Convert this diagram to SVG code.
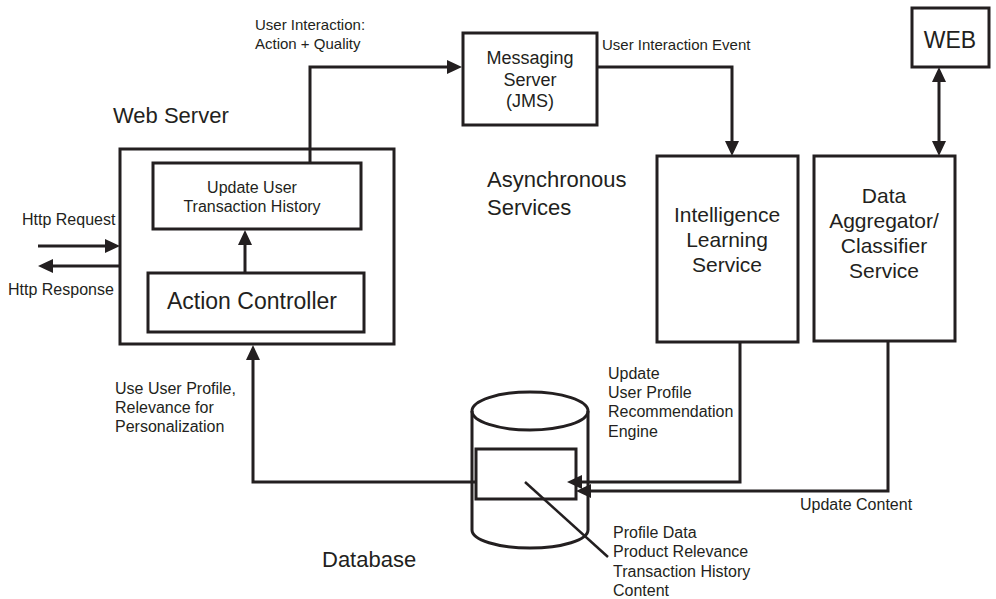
<svg xmlns="http://www.w3.org/2000/svg" width="996" height="599" viewBox="0 0 996 599">
  <style>
    .box { fill: #ffffff; stroke: #231f20; stroke-width: 3; }
    .wire { fill: none; stroke: #231f20; stroke-width: 3; }
    .t { font-family: "Liberation Sans", Arial, sans-serif; fill: #231f20; }
    .s16 { font-size: 16px; }
    .s15 { font-size: 15px; }
    .s18 { font-size: 18px; }
    .s21 { font-size: 21px; }
    .s22 { font-size: 22px; }
    .s23 { font-size: 23px; }
    .mid { text-anchor: middle; }
  </style>
  <defs>
    <marker id="head" viewBox="0 0 15 14" refX="3" refY="7" markerWidth="15" markerHeight="14" markerUnits="userSpaceOnUse" orient="auto-start-reverse">
      <path d="M0,0 L15,7 L0,14 z" fill="#231f20"/>
    </marker>
  </defs>
  <rect width="996" height="599" fill="#ffffff"/>

  <!-- Web server with its two inner steps -->
  <g id="web-server">
    <text class="t s22" x="113" y="123">Web Server</text>
    <rect class="box" x="120" y="149" width="274" height="195"/>
  </g>
  <g id="update-history">
    <rect class="box" x="153" y="163" width="208" height="66"/>
    <text class="t s16 mid" x="252" y="193">Update User</text>
    <text class="t s16 mid" x="252" y="212">Transaction History</text>
  </g>
  <g id="action-controller">
    <rect class="box" x="148" y="273" width="216" height="59"/>
    <text class="t s23 mid" x="252" y="309">Action Controller</text>
  </g>

  <!-- Messaging -->
  <g id="messaging-server">
    <rect class="box" x="463" y="33" width="134" height="92"/>
    <text class="t s18 mid" x="530" y="64">Messaging</text>
    <text class="t s18 mid" x="530" y="86">Server</text>
    <text class="t s18 mid" x="530" y="107">(JMS)</text>
  </g>

  <g id="async-label">
    <text class="t s22" x="487" y="187">Asynchronous</text>
    <text class="t s22" x="487" y="215">Services</text>
  </g>

  <g id="intelligence-service">
    <rect class="box" x="657" y="156" width="141" height="186"/>
    <text class="t s21 mid" x="727" y="222">Intelligence</text>
    <text class="t s21 mid" x="727" y="247">Learning</text>
    <text class="t s21 mid" x="727" y="272">Service</text>
  </g>

  <g id="aggregator-service">
    <rect class="box" x="814" y="156" width="141" height="185"/>
    <text class="t s21 mid" x="884" y="203">Data</text>
    <text class="t s21 mid" x="884" y="228">Aggregator/</text>
    <text class="t s21 mid" x="884" y="253">Classifier</text>
    <text class="t s21 mid" x="884" y="278">Service</text>
  </g>

  <g id="web">
    <rect class="box" x="912" y="8" width="77" height="59"/>
    <text class="t s23 mid" x="950" y="48">WEB</text>
  </g>

  <!-- Database cylinder with stored record block -->
  <g id="database">
    <path class="wire" d="M472,411 V530 A58,18 0 0 0 588,530 V411"/>
    <ellipse class="wire" cx="530" cy="411" rx="58" ry="19"/>
    <rect class="wire" x="476" y="449" width="100" height="50"/>
    <text class="t s22" x="322" y="567">Database</text>
  </g>

  <!-- Connectors -->
  <g id="connectors">
    <path class="wire" d="M38,246 H108" marker-end="url(#head)"/>
    <path class="wire" d="M120,266 H50" marker-end="url(#head)"/>
    <path class="wire" d="M245,273 V242" marker-end="url(#head)"/>
    <path class="wire" d="M310,163 V67 H450" marker-end="url(#head)"/>
    <path class="wire" d="M597,67 H732 V144" marker-end="url(#head)"/>
    <path class="wire" d="M939,79 V144" marker-start="url(#head)" marker-end="url(#head)"/>
    <path class="wire" d="M740,342 V482 H579" marker-end="url(#head)"/>
    <path class="wire" d="M888,341 V491 H588" marker-end="url(#head)"/>
    <path class="wire" d="M476,482 H253 V357" marker-end="url(#head)"/>
    <path class="wire" style="stroke-width:2.5" d="M525,482 L608,557"/>
  </g>

  <!-- Connector labels -->
  <g id="labels">
    <text class="t s15" x="255" y="30">User Interaction:</text>
    <text class="t s15" x="255" y="49">Action + Quality</text>
    <text class="t s15" x="602" y="50">User Interaction Event</text>
    <text class="t s16" x="22" y="225">Http Request</text>
    <text class="t s16" x="8" y="295">Http Response</text>
    <text class="t s16" x="115" y="394">Use User Profile,</text>
    <text class="t s16" x="115" y="413">Relevance for</text>
    <text class="t s16" x="115" y="432">Personalization</text>
    <text class="t s16" x="608" y="379">Update</text>
    <text class="t s16" x="608" y="398">User Profile</text>
    <text class="t s16" x="608" y="417">Recommendation</text>
    <text class="t s16" x="608" y="437">Engine</text>
    <text class="t s16" x="800" y="510">Update Content</text>
    <text class="t s16" x="613" y="538">Profile Data</text>
    <text class="t s16" x="613" y="557">Product Relevance</text>
    <text class="t s16" x="613" y="577">Transaction History</text>
    <text class="t s16" x="613" y="596">Content</text>
  </g>
</svg>
